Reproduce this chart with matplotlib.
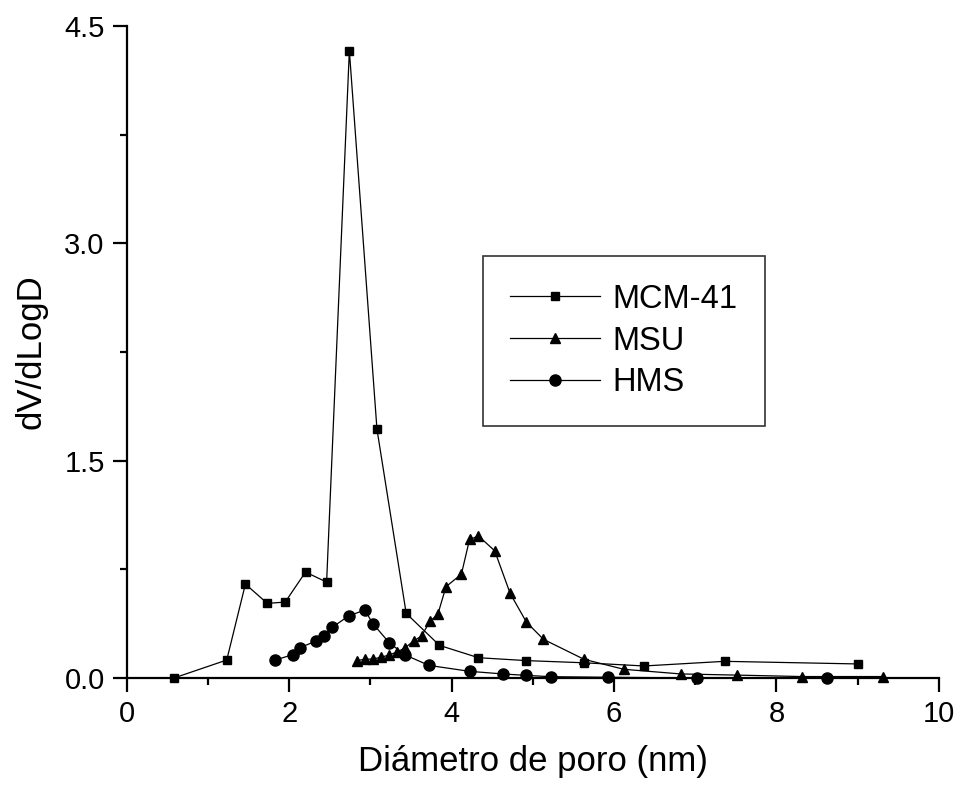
import matplotlib.pyplot as plt
from matplotlib.ticker import MultipleLocator

plt.rcParams['font.family'] = ['Liberation Sans', 'DejaVu Sans']

# pore size distributions
mcm_x = [0.58, 1.23, 1.46, 1.73, 1.95, 2.20, 2.46, 2.74, 3.08, 3.44, 3.85, 4.33,
         4.92, 5.63, 6.37, 7.36, 9.00]
mcm_y = [0.0, 0.124, 0.648, 0.515, 0.524, 0.731, 0.662, 4.33, 1.717, 0.446, 0.225,
         0.14, 0.12, 0.105, 0.083, 0.115, 0.097]

msu_x = [2.83, 2.93, 3.03, 3.13, 3.23, 3.33, 3.43, 3.53, 3.63, 3.73, 3.83, 3.93,
         4.12, 4.22, 4.33, 4.53, 4.72, 4.92, 5.13, 5.63, 6.12, 6.82, 7.51, 8.31, 9.31]
msu_y = [0.12, 0.129, 0.131, 0.143, 0.159, 0.18, 0.21, 0.255, 0.29, 0.39, 0.44, 0.63,
         0.717, 0.956, 0.98, 0.878, 0.584, 0.386, 0.267, 0.129, 0.06, 0.028, 0.02,
         0.01, 0.01]

hms_x = [1.83, 2.04, 2.13, 2.33, 2.43, 2.53, 2.73, 2.93, 3.03, 3.23, 3.42, 3.72,
         4.22, 4.63, 4.92, 5.22, 5.92, 7.02, 8.62]
hms_y = [0.124, 0.161, 0.209, 0.255, 0.292, 0.35, 0.428, 0.469, 0.375, 0.244, 0.161,
         0.087, 0.046, 0.028, 0.018, 0.009, 0.005, 0.0, 0.003]

fig = plt.figure(figsize=(9.61, 7.88), dpi=100)
ax = fig.add_axes([0.132, 0.1396, 0.845, 0.8274])

ax.plot(mcm_x, mcm_y, color='black', lw=0.9, marker='s', ms=6, label='MCM-41', clip_on=False)
ax.plot(msu_x, msu_y, color='black', lw=0.9, marker='^', ms=7.5, label='MSU', clip_on=False)
ax.plot(hms_x, hms_y, color='black', lw=0.9, marker='o', ms=8, label='HMS', clip_on=False)

ax.set_xlim(0, 10)
ax.set_ylim(0, 4.5)
ax.xaxis.set_major_locator(MultipleLocator(2))
ax.xaxis.set_minor_locator(MultipleLocator(1))
ax.yaxis.set_major_locator(MultipleLocator(1.5))
ax.yaxis.set_minor_locator(MultipleLocator(0.75))
ax.yaxis.set_major_formatter(lambda v, p: f'{v:.1f}')

for side in ('top', 'right'):
    ax.spines[side].set_visible(False)
for side in ('left', 'bottom'):
    ax.spines[side].set_linewidth(1.6)

ax.tick_params(which='major', direction='out', length=10, width=1.6, labelsize=21, pad=6)
ax.tick_params(which='minor', direction='out', length=5, width=1.6)

ax.set_xlabel('Diámetro de poro (nm)', fontsize=25, labelpad=12)
ax.set_ylabel('dV/dLogD', fontsize=25, labelpad=12)

leg = ax.legend(loc='upper left', bbox_to_anchor=(0.438, 0.647), fontsize=23.5,
                frameon=True, fancybox=False, edgecolor='black', handlelength=2.75,
                handletextpad=0.37, borderpad=0.85, labelspacing=0.33, borderaxespad=0)
leg.get_frame().set_linewidth(1.2)

fig.savefig('out.png', dpi=100)
